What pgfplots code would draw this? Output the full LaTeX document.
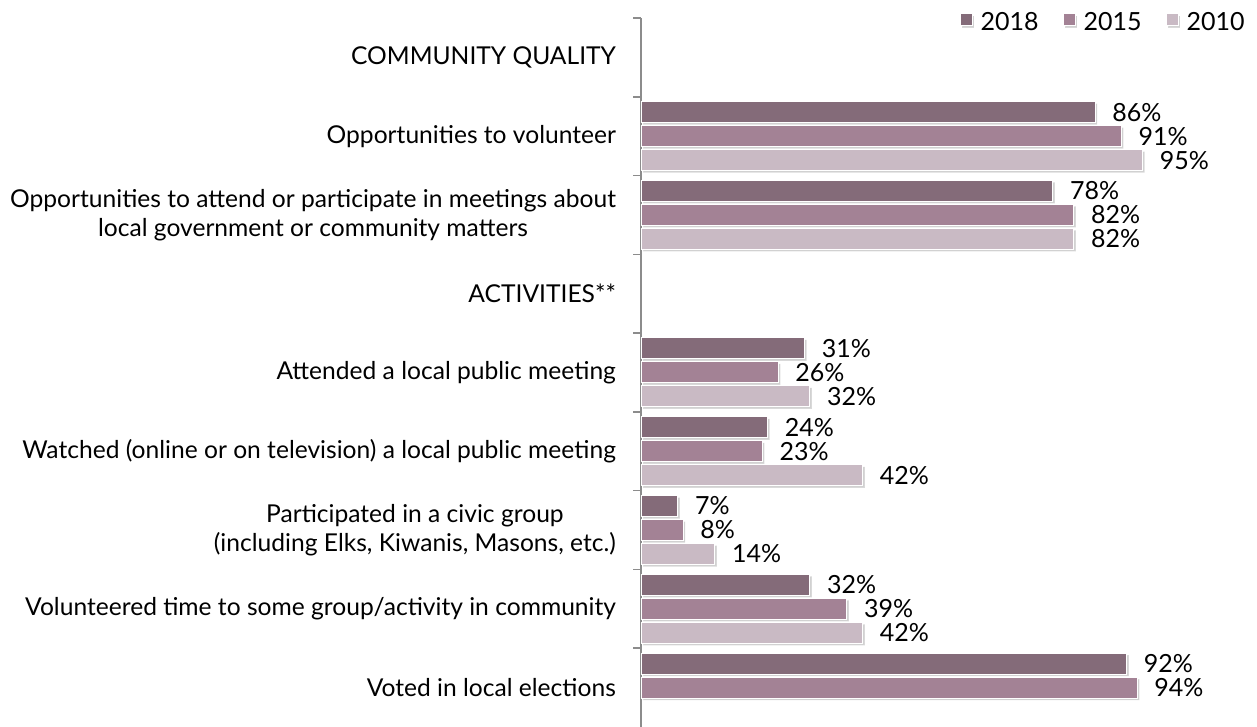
\documentclass[border=0pt]{standalone}
\usepackage{pgfplots}
\pgfplotsset{compat=1.18}
\usetikzlibrary{shadows}
\usepackage{fontspec}
\setmainfont{Lato}
\definecolor{c18}{HTML}{846B79}
\definecolor{c15}{HTML}{A38295}
\definecolor{c10}{HTML}{C9BAC4}
\definecolor{axgray}{HTML}{8C8C8C}

\begin{document}
\begin{tikzpicture}
\path[use as bounding box] (0pt,0pt) rectangle (628.5pt,-363.5pt);
\begin{axis}[
  at={(320.5pt,-9pt)}, anchor=north west,
  scale only axis,
  width=264pt, height=354.5pt,
  xbar, bar width=10.5pt,
  xmin=0, xmax=100,
  ymin=0.5, ymax=9.5,
  axis x line=none,
  axis y line*=left,
  y axis line style={draw=axgray, line width=0.8pt},
  ytick={1,...,9},
  yticklabels={
    Voted in local elections,
    Volunteered time to some group/activity in community,
    {Participated in a civic group\\(including Elks, Kiwanis, Masons, etc.)},
    Watched (online or on television) a local public meeting,
    Attended a local public meeting,
    ACTIVITIES**,
    {Opportunities to attend or participate in meetings about\\local government or community matters},
    Opportunities to volunteer,
    COMMUNITY QUALITY},
  minor ytick={1.5,2.5,...,9.5},
  major tick length=0pt, minor tick length=4pt,
  tick align=outside,
  minor tick style={draw=axgray, line width=0.8pt},
  yticklabel style={align=center, font=\fontsize{12.3}{14.5}\selectfont, xshift=-9pt},
  /pgf/number format/assume math mode=true,
  nodes near coords={\pgfmathprintnumber{\pgfplotspointmeta}\%},
  every node near coord/.append style={font=\fontsize{12.5}{14}\selectfont, black, xshift=5pt},
  legend columns=3,
  legend style={at={(axis description cs:1.163,1.02)}, anchor=north east,
    draw=none, fill=none, font=\fontsize{12.5}{14}\selectfont,
    /tikz/every odd column/.append style={column sep=2pt},
    /tikz/every even column/.append style={column sep=10pt}},
  legend image code/.code={\fill[#1] (0pt,-1.5pt) rectangle (6pt,4.5pt);},
  barsty/.style={draw=white, line width=0.5pt,
    drop shadow={shadow xshift=1pt, shadow yshift=-1pt, fill=black, opacity=0.18}},
]
\addplot[barsty, fill=c18, bar shift=12pt] coordinates {(86,8) (78,7) (31,5) (24,4) (7,3) (32,2) (92,1)};
\addplot[barsty, fill=c15, bar shift=0pt] coordinates {(91,8) (82,7) (26,5) (23,4) (8,3) (39,2) (94,1)};
\addplot[barsty, fill=c10, bar shift=-12pt] coordinates {(95,8) (82,7) (32,5) (42,4) (14,3) (42,2)};
\legend{2018, 2015, 2010}
\end{axis}
\end{tikzpicture}
\end{document}
